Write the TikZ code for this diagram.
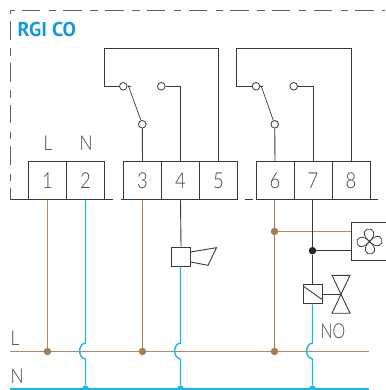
\documentclass[tikz,border=0pt]{standalone}
\usepackage{fontspec}
\usepackage{graphicx}
\setmainfont{PT Sans}
\newfontfamily\thinf{Lato Light}
\newcommand\narrowtxt[1]{\scalebox{.84}[1]{#1}}
\definecolor{brn}{HTML}{B08A5E}
\definecolor{brd}{HTML}{A97C50}
\definecolor{blu}{HTML}{1CB5EE}
\definecolor{ttl}{HTML}{0E9BD8}
\definecolor{dk}{HTML}{3A3A3A}
\definecolor{txt}{HTML}{484848}
\tikzset{
  x=1pt,y=-1pt,
  wire/.style={draw=dk,line width=0.9pt},
  brnw/.style={draw=brn,line width=1.5pt},
  bluw/.style={draw=blu,line width=1.4pt},
  term/.style={draw=dk,line width=0.8pt,minimum width=38pt,minimum height=38pt,inner sep=0pt,font=\thinf\fontsize{22}{22}\selectfont,text=txt},
  lbl/.style={font=\thinf\fontsize{20.5}{20.5}\selectfont,text=txt,inner sep=0pt},
  contact/.style={circle,draw=dk,fill=white,line width=0.8pt,minimum size=7.6pt,inner sep=0pt},
  bdot/.style={circle,fill=brd,minimum size=7.5pt,inner sep=0pt},
  ldot/.style={circle,fill=blu,minimum size=7pt,inner sep=0pt},
  kdot/.style={circle,fill=black!85,minimum size=7.5pt,inner sep=0pt},
}
\begin{document}
\begin{tikzpicture}
\useasboundingbox (0,0) rectangle (385,390);
\fill[white] (0,0) rectangle (385,390);
% enclosure
\coordinate (bTL) at (10.7,10.4);
\coordinate (bTR) at (385,10.4);
\coordinate (bBL) at (10.7,199.5);
\coordinate (gapA) at (113,199.5);
\coordinate (gapB) at (121,199.5);
\coordinate (gapC) at (238,199.5);
\coordinate (gapD) at (245,199.5);
\coordinate (gapE) at (253,199.5);
\coordinate (gapF) at (256,199.5);
\coordinate (bBR) at (378,199.5);
\draw[draw=dk!80,line width=0.85pt,dash pattern=on 18.5pt off 8.5pt on 7.5pt off 7.2pt,dash phase=30.7pt] (bTL) -- (bTR);
\draw[draw=dk!80,line width=0.85pt,dash pattern=on 18.5pt off 8.5pt on 7.5pt off 7.2pt,dash phase=30.7pt] (bTL) -- (bBL);
\draw[wire] (bBL) -- (gapA) (gapB) -- (gapC) (gapD) -- (gapE) (gapF) -- (bBR);
\node[anchor=west,inner sep=0pt,text=ttl,font=\fontsize{20}{20}\selectfont\bfseries] (title) at (17.5,29.7) {RGI CO};
% terminals
\foreach \n/\cx in {1/47.5,2/85.5,3/142.5,4/180.5,5/218.5,6/275,7/313,8/351}
  \node[term] (t\n) at (\cx,180.5) {\narrowtxt{\n}};
\node[lbl] (lL) at (48,143.5) {\narrowtxt{L}};
\node[lbl] (lN) at (86,143.5) {\narrowtxt{N}};
% relay 1
\node[contact] (c1a) at (123.3,86.3) {};
\node[contact] (c1b) at (161.3,86.3) {};
\node[contact] (c1c) at (142.3,124.3) {};
\draw[wire] (t3.north) -- (c1c);
\draw[wire] (c1b) -| (t4.north);
\draw[wire] (c1a) -- (104.3,86.3) -- (104.3,48.7) -| (t5.north);
\draw[wire,line width=0.7pt] (c1c) -- (128.3,85.5);
\draw[wire,line width=0.7pt] (c1a.east) -- (130.5,86.3);
% relay 2
\node[contact] (c2a) at (256,86.3) {};
\node[contact] (c2b) at (293.7,86.3) {};
\node[contact] (c2c) at (274.7,124.3) {};
\draw[wire] (t6.north) -- (c2c);
\draw[wire] (c2b) -| (t7.north);
\draw[wire] (c2a) -- (236.7,86.3) -- (236.7,48.7) -| (t8.north);
\draw[wire,line width=0.7pt] (c2c) -- (261,85.5);
\draw[wire,line width=0.7pt] (c2a.east) -- (263,86.3);
% bus
\coordinate (busLw) at (10,351.5);
\coordinate (busLe) at (369,351.5);
\coordinate (busNw) at (10,389);
\coordinate (busNe) at (369,389);
\draw[brnw] (busLw) -- (busLe);
\draw[bluw,line width=2pt] (busNw) -- (busNe);
\node[lbl,anchor=west] (busL) at (10.5,338.5) {\narrowtxt{L}};
\node[lbl,anchor=west] (busN) at (10.5,376.5) {\narrowtxt{N}};
% L feeds
\node[bdot] (d1) at (47.5,351.5) {};
\node[bdot] (d3) at (142.5,351.5) {};
\node[bdot] (d6) at (274.5,351.5) {};
\node[bdot] (d6b) at (274.5,231.5) {};
\draw[brnw] (t1.south) -- (d1);
\draw[brnw,draw=brd] (t3.south) -- (d3);
\draw[brnw,draw=brd] (d6b |- t6.south) -- (d6);
% N dots
\node[ldot] (n2) at (85.5,389) {};
\node[ldot] (n4) at (180.5,389) {};
\node[ldot] (n7) at (312.5,389) {};
% horn
\node[draw=dk,fill=white,line width=0.9pt,minimum size=19pt,inner sep=0pt] (horn) at (181,256.5) {};
\coordinate (h1) at (190.5,252);
\coordinate (h2) at (216.5,247.7);
\coordinate (h3) at (208,265.3);
\coordinate (h4) at (190.5,262);
\draw[wire] (h1) -- (h2) -- (h3) -- (h4);
\draw[wire] (t4.south) -- (horn.north);
% fan
\node[draw=dk,fill=white,line width=0.9pt,minimum size=38pt,inner sep=0pt] (fan) at (370,241) {};
\draw[brnw] (d6b) -- (fan.west |- d6b);
\node[kdot] (k) at (312.5,250.7) {};
\draw[wire] (k |- t7.south) -- (k);
\draw[wire] (k) -- (fan.west |- k);
\begin{scope}[shift={(369.5,241.5)},line width=0.75pt,scale=1.12]
\foreach \a in {0,90,180,270}
 \draw[draw=dk,rotate=\a] (0,0) .. controls (-4,-3) and (-7,-9) .. (-2,-11) .. controls (3,-13) and (7,-6) .. (0,0);
\end{scope}
% valve
\node[draw=dk,fill=white,line width=0.9pt,minimum size=19pt,inner sep=0pt] (coil) at (313.3,294.4) {};
\coordinate (s1) at (303.8,286.5);
\coordinate (s2) at (322.8,300);
\draw[wire] (s1) -- (s2);
\draw[wire] (k) -- (k |- coil.north);
\coordinate (vc) at (341,294.4);
\draw[wire] (coil.east) -- (vc);
\coordinate (v1) at (332,275.3);
\coordinate (v2) at (350,275.3);
\coordinate (v3) at (332,313.2);
\coordinate (v4) at (350,313.2);
\draw[wire,line join=miter] (v1) -- (v2) -- (v3) -- (v4) -- cycle;
\node[lbl] (no) at (333,331.7) {\scalebox{.78}[1]{NO}};
% N lines with hops
\coordinate (u2) at (85.5,343);
\coordinate (w2) at (85.5,359);
\coordinate (u4) at (180.5,343);
\coordinate (w4) at (180.5,359);
\coordinate (u7) at (312.5,343);
\coordinate (w7) at (312.5,359);
\draw[bluw] (t2.south) -- (u2) .. controls (77.7,344) and (77.7,358) .. (w2) -- (n2);
\draw[bluw] (u4 |- horn.south) -- (u4) .. controls (172.7,344) and (172.7,358) .. (w4) -- (n4);
\draw[bluw] (u7 |- coil.south) -- (u7) .. controls (304.7,344) and (304.7,358) .. (w7) -- (n7);
\end{tikzpicture}
\end{document}
